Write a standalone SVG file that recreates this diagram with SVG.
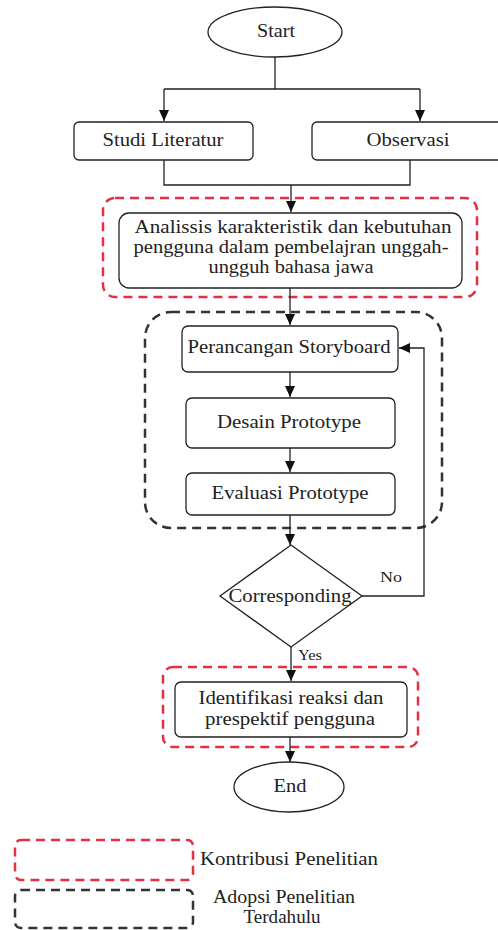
<svg xmlns="http://www.w3.org/2000/svg" width="498" height="930" viewBox="0 0 498 930">
<style>
.n{fill:#fff;stroke:#222;stroke-width:1.3}
.t{font-family:"Liberation Serif","Times New Roman",serif;font-size:19px;fill:#222;text-anchor:middle}
.s{font-family:"Liberation Serif","Times New Roman",serif;font-size:15px;fill:#222}
.c{fill:none;stroke:#222;stroke-width:1.3}
.red{fill:none;stroke:#e5303f;stroke-width:2.5;stroke-dasharray:9 6}
.blk{fill:none;stroke:#333;stroke-width:2.5;stroke-dasharray:9 6}
</style>
<defs>
<marker id="a" markerUnits="userSpaceOnUse" markerWidth="12" markerHeight="12" viewBox="0 0 12 12" refX="11" refY="6" orient="auto">
<path d="M0,1 L11,6 L0,11 Z" fill="#111"/>
</marker>
</defs>
<rect width="498" height="930" fill="#fff"/>

<g id="groups">
<rect id="contrib1" class="red" x="103" y="198" width="374" height="99" rx="12"/>
<rect id="adopt" class="blk" x="145" y="312" width="297" height="216" rx="26"/>
<rect id="contrib2" class="red" x="163" y="667" width="255" height="80" rx="10"/>
</g>

<g id="connectors">
<path class="c" d="M275,57 V89 M164,89 H420"/>
<path class="c" d="M164,89 V121" marker-end="url(#a)"/>
<path class="c" d="M420,89 V121" marker-end="url(#a)"/>
<path class="c" d="M164,160 V185 H410 V160"/>
<path class="c" d="M291,185 V212" marker-end="url(#a)"/>
<path class="c" d="M290,288 V325" marker-end="url(#a)"/>
<path class="c" d="M290,372 V397" marker-end="url(#a)"/>
<path class="c" d="M290,448 V472" marker-end="url(#a)"/>
<path class="c" d="M290,515 V545" marker-end="url(#a)"/>
<path class="c" d="M362,596 H424 V348 H399" marker-end="url(#a)"/>
<path class="c" d="M291,647 V681" marker-end="url(#a)"/>
<path class="c" d="M290,737 V762" marker-end="url(#a)"/>
<text class="s" x="380" y="582" textLength="22" lengthAdjust="spacingAndGlyphs">No</text>
<text class="s" x="298" y="660" textLength="24" lengthAdjust="spacingAndGlyphs">Yes</text>
</g>

<g id="start">
<ellipse class="n" cx="275" cy="32" rx="67" ry="25"/>
<text class="t" x="276" y="37" textLength="38" lengthAdjust="spacingAndGlyphs">Start</text>
</g>
<g id="studi">
<rect class="n" x="74" y="122" width="179" height="38" rx="5"/>
<text class="t" x="163" y="146" textLength="121" lengthAdjust="spacingAndGlyphs">Studi Literatur</text>
</g>
<g id="observasi">
<rect class="n" x="312" y="122" width="196" height="38" rx="5"/>
<text class="t" x="408" y="146" textLength="83" lengthAdjust="spacingAndGlyphs">Observasi</text>
</g>
<g id="analisis">
<rect class="n" x="119" y="213" width="343" height="75" rx="10"/>
<text class="t" x="293" y="233" textLength="317" lengthAdjust="spacingAndGlyphs">Analissis karakteristik dan kebutuhan</text>
<text class="t" x="291" y="253" textLength="315" lengthAdjust="spacingAndGlyphs">pengguna dalam pembelajran unggah-</text>
<text class="t" x="291" y="273" textLength="165" lengthAdjust="spacingAndGlyphs">ungguh bahasa jawa</text>
</g>
<g id="perancangan">
<rect class="n" x="182" y="326" width="216" height="46" rx="6"/>
<text class="t" x="289" y="353" textLength="203" lengthAdjust="spacingAndGlyphs">Perancangan Storyboard</text>
</g>
<g id="desain">
<rect class="n" x="186" y="398" width="209" height="50" rx="6"/>
<text class="t" x="289" y="428" textLength="144" lengthAdjust="spacingAndGlyphs">Desain Prototype</text>
</g>
<g id="evaluasi">
<rect class="n" x="186" y="473" width="209" height="42" rx="6"/>
<text class="t" x="290" y="499" textLength="157" lengthAdjust="spacingAndGlyphs">Evaluasi Prototype</text>
</g>
<g id="corresponding">
<path class="n" d="M291,545 L362,596 L291,647 L220,596 Z"/>
<text class="t" x="290" y="602" textLength="123" lengthAdjust="spacingAndGlyphs">Corresponding</text>
</g>
<g id="identifikasi">
<rect class="n" x="175" y="682" width="232" height="55" rx="6"/>
<text class="t" x="291" y="704" textLength="185" lengthAdjust="spacingAndGlyphs">Identifikasi reaksi dan</text>
<text class="t" x="290" y="725" textLength="170" lengthAdjust="spacingAndGlyphs">prespektif pengguna</text>
</g>
<g id="end">
<ellipse class="n" cx="289" cy="787" rx="55" ry="25"/>
<text class="t" x="290" y="792" textLength="33" lengthAdjust="spacingAndGlyphs">End</text>
</g>

<g id="legend">
<rect class="red" x="15" y="840" width="178" height="40" rx="6"/>
<text class="t" x="200" y="865" style="text-anchor:start" textLength="178" lengthAdjust="spacingAndGlyphs">Kontribusi Penelitian</text>
<rect class="blk" x="15" y="890" width="178" height="38" rx="6"/>
<text class="t" x="284" y="903" textLength="142" lengthAdjust="spacingAndGlyphs">Adopsi Penelitian</text>
<text class="t" x="282" y="923" textLength="77" lengthAdjust="spacingAndGlyphs">Terdahulu</text>
</g>
</svg>
